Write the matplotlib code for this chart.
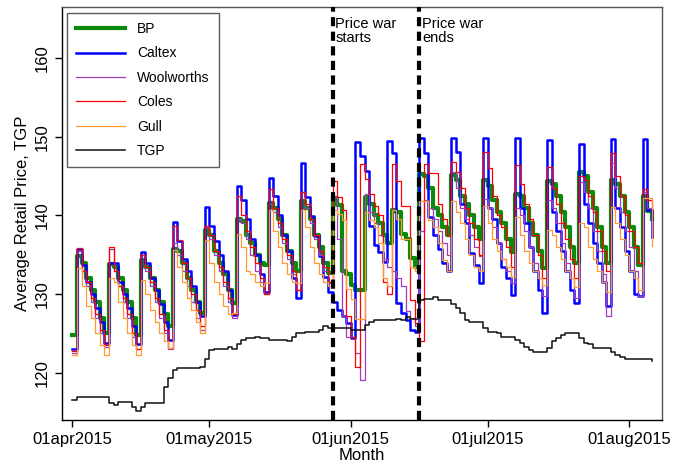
import matplotlib
matplotlib.use("Agg")
import matplotlib.pyplot as plt
import numpy as np

plt.rcParams['font.family'] = ['Liberation Sans', 'DejaVu Sans']

# day index 0 = 01apr2015
tick_days = [0, 30, 61, 91, 122]
tick_labels = ["01apr2015", "01may2015", "01jun2015", "01jul2015", "01aug2015"]
war_start_day = 57
war_end_day = 76

bp = [124.8,
      134.8, 134.0, 132.0, 130.5, 129.0, 127.0, 125.0,
      133.8, 133.5, 132.0, 130.5, 129.0, 127.0, 124.8,
      134.3, 133.5, 132.0, 130.5, 129.0, 127.5, 126.0,
      135.8, 135.5, 134.0, 132.0, 130.5, 129.0, 127.6,
      138.2, 137.5, 135.5, 134.0, 132.5, 130.5, 128.9,
      139.6, 139.3, 137.5, 136.5, 135.0, 134.0, 133.7,
      141.6, 141.0, 139.5, 137.5, 135.5, 134.0, 132.9,
      141.8, 141.0, 139.5, 137.5, 136.0, 134.0, 132.7,
      142.2, 141.3, 132.9, 132.5, 131.1,
      130.5, 130.5, 142.4, 141.5, 140.0, 139.0, 137.5,
      136.5, 140.7, 140.5, 137.7, 137.0, 134.6, 133.5,
      145.3, 145.0, 143.5, 141.0, 140.0, 138.5, 137.5,
      145.2, 144.5, 142.5, 141.5, 140.0, 138.5, 137.0,
      144.5, 143.8, 142.0, 140.5, 139.0, 137.0, 135.4,
      142.7, 142.5, 141.0, 139.0, 137.5, 135.5, 133.3,
      144.4, 144.0, 142.5, 140.5, 138.5, 136.0, 133.9,
      145.5, 145.0, 143.0, 141.0, 138.5, 136.0, 133.9,
      144.5, 144.0, 142.5, 140.5, 138.5, 136.0, 133.7,
      142.5, 140.6, 139.6]

caltex = [123.0,
          135.8, 133.7, 131.5, 130.0, 128.3, 126.5, 123.8,
          134.0, 133.9, 131.5, 130.0, 128.3, 126.0, 123.6,
          135.4, 134.0, 132.0, 130.5, 128.7, 126.5, 124.2,
          139.2, 136.7, 134.5, 133.0, 131.0, 129.0, 127.2,
          141.1, 138.6, 136.8, 135.0, 133.0, 130.5, 127.4,
          143.7, 142.0, 139.5, 137.0, 135.0, 132.5, 130.3,
          144.7, 142.5, 140.0, 137.5, 135.5, 132.0, 129.5,
          146.7, 142.4, 139.9, 137.4, 134.8, 132.2, 130.3,
          129.0, 128.0, 127.2, 126.3, 124.4,
          149.4, 147.5, 145.6, 138.6, 136.3, 135.4, 134.1,
          149.5, 147.9, 128.9, 127.6, 126.7, 125.5, 125.2,
          149.8, 147.9, 139.8, 137.5, 135.8, 134.0, 132.9,
          149.8, 148.1, 141.5, 139.0, 135.2, 133.7, 131.4,
          149.8, 141.0, 139.5, 136.5, 133.5, 132.0, 129.9,
          149.8, 141.0, 139.0, 136.0, 133.0, 130.5, 127.6,
          149.6, 140.5, 138.0, 135.5, 133.0, 130.5, 128.9,
          149.1, 141.5, 139.0, 136.5, 134.0, 131.5, 128.5,
          149.7, 141.0, 138.5, 135.5, 133.0, 130.0, 129.7,
          149.7, 140.7, 137.3]

woolworths = [122.5,
              135.5, 133.0, 131.0, 129.0, 127.0, 125.0, 123.3,
              135.8, 133.0, 131.0, 129.0, 127.0, 124.5, 123.0,
              135.0, 133.0, 131.0, 129.0, 127.0, 125.0, 123.0,
              136.5, 135.0, 133.0, 131.0, 129.0, 127.0, 125.5,
              138.5, 137.0, 135.0, 133.0, 131.0, 129.0, 127.0,
              139.5, 139.0, 137.0, 135.0, 133.0, 131.5, 130.0,
              141.5, 140.5, 138.5, 136.5, 134.5, 132.5, 130.5,
              143.0, 141.0, 139.0, 137.0, 135.0, 133.0, 131.4,
              142.4, 137.0, 127.2, 124.6, 124.6,
              122.5, 119.1, 142.7, 140.5, 139.0, 137.5, 134.5,
              133.5, 133.0, 132.0, 131.0, 127.8, 127.0, 126.0,
              138.0, 142.0, 141.0, 139.5, 138.0, 136.5, 135.0,
              145.5, 143.5, 141.0, 139.5, 137.5, 136.0, 134.8,
              142.1, 141.0, 138.5, 136.5, 134.5, 133.0, 131.4,
              141.0, 140.0, 138.0, 136.0, 134.0, 132.0, 129.7,
              142.0, 141.0, 139.0, 136.5, 134.0, 132.0, 129.5,
              144.3, 143.0, 141.0, 138.0, 135.5, 132.5, 127.2,
              146.7, 143.5, 140.5, 138.0, 136.0, 133.0, 129.7,
              143.0, 141.0, 139.5]

coles = [122.8,
         135.9, 133.0, 131.5, 129.5, 127.5, 125.5, 123.5,
         136.0, 133.0, 131.0, 129.5, 127.5, 125.0, 123.0,
         135.0, 133.5, 131.5, 129.5, 127.5, 125.5, 123.2,
         138.7, 136.9, 134.0, 132.0, 130.0, 128.0, 126.0,
         138.7, 137.5, 135.5, 133.5, 131.5, 129.5, 127.5,
         142.5, 140.0, 138.0, 136.0, 134.0, 132.0, 130.0,
         143.4, 141.0, 139.0, 137.0, 135.0, 133.0, 130.5,
         143.0, 141.5, 139.5, 137.5, 135.5, 133.5, 131.5,
         144.4, 142.4, 140.7, 127.2, 124.6,
         120.8, 146.6, 144.6, 142.7, 141.2, 140.1, 131.5,
         130.0, 146.6, 144.4, 141.2, 141.2, 129.2, 126.3,
         124.0, 146.6, 145.4, 145.4, 141.5, 139.5, 137.5,
         146.8, 145.5, 143.5, 141.0, 139.0, 137.0, 135.0,
         148.1, 146.0, 142.5, 140.0, 138.5, 136.0, 133.5,
         146.4, 144.0, 141.5, 139.5, 137.5, 135.0, 132.0,
         146.2, 143.5, 141.5, 139.0, 137.0, 134.5, 132.0,
         145.0, 144.5, 142.5, 140.5, 138.0, 135.5, 133.0,
         147.9, 145.0, 142.5, 140.0, 138.0, 136.0, 134.0,
         143.4, 142.0, 140.5]

gull = [122.2,
        133.3, 131.0, 128.5, 127.0, 125.0, 123.5, 122.3,
        132.0, 131.5, 129.0, 127.0, 125.0, 123.5, 122.3,
        131.8, 130.0, 128.0, 126.5, 125.0, 124.0, 123.1,
        135.6, 133.5, 131.5, 129.5, 128.0, 126.5, 125.0,
        136.9, 134.0, 131.5, 130.0, 128.5, 127.5, 127.6,
        137.7, 136.0, 133.0, 132.5, 131.5, 131.0, 131.4,
        140.7, 138.0, 136.0, 134.0, 132.5, 131.5, 131.4,
        140.7, 138.5, 136.0, 134.0, 132.5, 131.5, 131.0,
        140.7, 140.2, 139.4, 130.7, 129.4,
        126.9, 126.9, 140.4, 139.4, 138.5, 136.5, 132.0,
        131.0, 140.7, 139.6, 137.0, 137.0, 133.5, 133.0,
        141.8, 141.8, 139.4, 138.5, 136.5, 134.4, 132.9,
        141.8, 140.5, 139.0, 137.0, 135.0, 133.5, 133.0,
        141.2, 139.0, 137.0, 135.5, 134.5, 133.5, 132.2,
        139.8, 137.5, 135.5, 134.0, 133.0, 132.0, 131.1,
        138.1, 137.5, 136.0, 134.5, 133.0, 132.0, 130.9,
        139.0, 138.5, 136.0, 134.5, 133.0, 131.5, 130.3,
        141.1, 139.0, 137.0, 135.0, 133.0, 132.0, 130.5,
        142.2, 142.2, 136.1]

tgp = [116.6,
       116.9, 116.9, 116.9, 116.9, 116.9, 116.9, 116.9,
       116.1, 115.9, 116.3, 116.3, 116.3, 115.6, 115.2,
       115.6, 116.1, 116.1, 116.1, 116.1, 118.2, 119.4,
       120.3, 120.6, 120.6, 120.6, 120.6, 120.6, 120.8,
       121.7, 122.9, 123.0, 123.0, 123.0, 123.3, 123.0,
       123.6, 124.2, 124.4, 124.4, 124.6, 124.4, 124.4,
       124.2, 124.2, 124.2, 124.2, 124.0, 124.6, 125.0,
       125.0, 125.2, 125.2, 125.2, 125.5, 125.9, 125.7,
       125.7, 125.7, 125.7, 125.7, 125.5,
       125.4, 125.4, 126.1, 126.5, 126.7, 126.7, 126.7,
       126.7, 126.7, 126.9, 126.7, 127.1, 126.9, 126.9,
       129.2, 129.4, 129.4, 129.6, 129.2, 129.2, 129.2,
       128.8, 128.2, 127.6, 126.7, 126.5, 126.5, 126.5,
       125.7, 125.2, 125.2, 125.0, 124.6, 124.6, 124.6,
       124.2, 123.8, 123.3, 122.9, 122.6, 122.6, 122.6,
       123.1, 124.0, 124.4, 124.8, 125.0, 125.0, 125.0,
       124.4, 123.8, 123.6, 123.1, 123.1, 123.1, 123.1,
       122.7, 122.3, 122.0, 121.7, 121.7, 121.7, 121.7,
       121.7, 121.7, 121.5]

days = np.arange(len(tgp))

W, H = 673, 466
fig = plt.figure(figsize=(W / 100, H / 100), dpi=100)
ax = fig.add_axes([62 / W, 1 - 420 / H, 600 / W, 413 / H])

series = [
    ("BP", bp, "#0c8a0c", 3.0),
    ("Caltex", caltex, "#0000ff", 1.8),
    ("Woolworths", woolworths, "#a23cbf", 0.9),
    ("Coles", coles, "#ff0000", 0.9),
    ("Gull", gull, "#ff9a33", 0.9),
    ("TGP", tgp, "#111111", 1.1),
]
for name, vals, col, lw in series:
    ax.plot(days[:len(vals)], vals, drawstyle="steps-post", color=col, lw=lw, label=name)

for d in (war_start_day, war_end_day):
    ax.axvline(d, color="black", lw=3.0, linestyle=(0, (2.2, 1.3)), zorder=5)

ax.text(war_start_day + 0.6, 165.2, "Price war\nstarts", fontsize=10.5, va="top", ha="left",
        linespacing=1.0)
ax.text(war_end_day + 0.6, 165.2, "Price war\nends", fontsize=10.5, va="top", ha="left",
        linespacing=1.0)

ax.set_xlim(-2.3, 129.2)
ax.set_ylim(114.0, 166.5)
ax.set_xticks(tick_days)
ax.set_xticklabels(tick_labels, fontsize=12)
ax.set_yticks([120, 130, 140, 150, 160])
ax.set_yticklabels(["120", "130", "140", "150", "160"], fontsize=12, rotation=90, va="center")
ax.tick_params(direction="out", length=5, width=1)
ax.set_xlabel("Month", fontsize=12, labelpad=1)
ax.set_ylabel("Average Retail Price, TGP", fontsize=12, labelpad=4)
for name, s in ax.spines.items():
    s.set_linewidth(1.0)
    if name in ("top", "right"):
        s.set_color("#555555")

leg = ax.legend(loc="upper left", bbox_to_anchor=(0.0083, 0.9855), borderaxespad=0.0,
                fontsize=10, frameon=True, fancybox=False, edgecolor="#333333",
                handlelength=3.5, handletextpad=0.9, labelspacing=0.75, borderpad=0.65)
leg.get_frame().set_linewidth(1.0)

fig.savefig("out.png", dpi=100)
